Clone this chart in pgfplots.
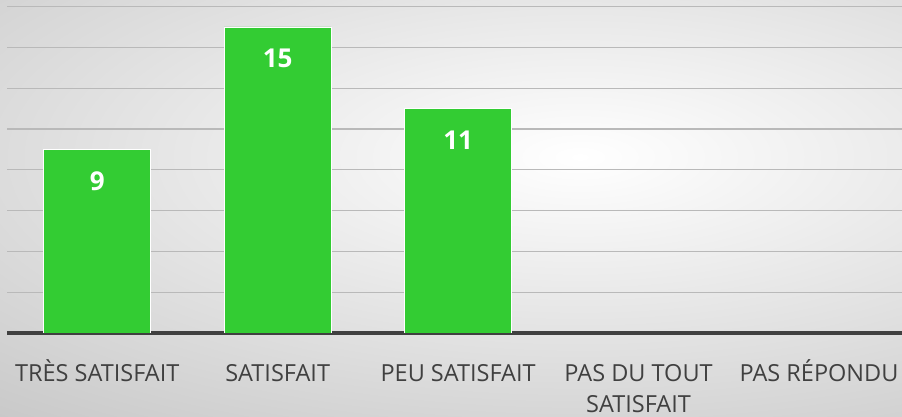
\documentclass[border=0pt]{standalone}
\usepackage{pgfplots}
\pgfplotsset{compat=1.18}
\usepackage{fontspec}
\setmainfont{Open Sans}
\definecolor{bargreen}{RGB}{51,204,51}
\definecolor{labelgray}{RGB}{64,64,64}
\definecolor{axisgray}{RGB}{64,64,64}
\definecolor{gridgray}{RGB}{185,185,185}
\begin{document}
\begin{tikzpicture}
\useasboundingbox (0,0) rectangle (902bp,417bp);
\begin{scope}
\clip (0,0) rectangle (902bp,417bp);
\fill[black!26] (0,0) rectangle (902bp,417bp);
\shade[inner color=white, outer color=black!26] (580bp,260bp) ellipse (1100bp and 420bp);
\end{scope}
\begin{axis}[
  at={(7bp,84bp)}, anchor=south west,
  scale only axis, width=895bp, height=326.5bp,
  xmin=-0.5, xmax=4.46, ymin=0, ymax=16,
  ybar, bar width=107bp,
  axis lines*=left,
  x axis line style={line width=3bp, color=axisgray},
  y axis line style={draw=none},
  xtick={0,1,2,3,4},
  xticklabels={TRÈS SATISFAIT, SATISFAIT, PEU SATISFAIT, {\begin{tabular}[t]{@{}c@{}}PAS DU TOUT\\SATISFAIT\end{tabular}}, PAS RÉPONDU},
  xtick style={draw=none},
  ytick style={draw=none},
  yticklabels={},
  xticklabel style={font=\fontsize{23.5bp}{31bp}\selectfont, text=labelgray, anchor=base, inner sep=0pt, yshift=-44bp},
  ytick={0,2,...,16},
  ymajorgrids, grid style={line width=1.2bp, color=gridgray},
  /pgf/number format/assume math mode=true,
  nodes near coords,
  every node near coord/.append style={anchor=north, inner sep=0pt, yshift=-22bp, text=white, font=\fontsize{26bp}{30bp}\selectfont\bfseries},
]
\addplot[fill=bargreen, draw=white, line width=0.8bp] coordinates {(0,9) (1,15) (2,11)};
\end{axis}
\end{tikzpicture}
\end{document}
